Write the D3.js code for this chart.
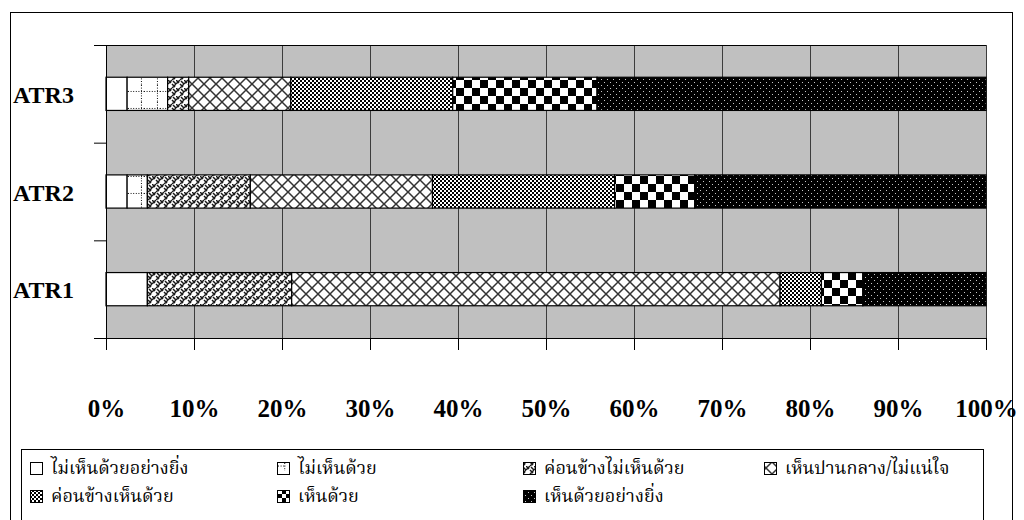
<!DOCTYPE html>
<html>
<head>
<meta charset="utf-8">
<script src="https://cdn.jsdelivr.net/npm/d3@7"></script>
<style>
  html, body { margin: 0; padding: 0; background: #fff; }
  svg { display: block; }
  .lat { font-family: "Liberation Serif", "Times New Roman", serif; font-weight: bold; }
  .thai { font-family: "Noto Serif Thai", "Noto Sans Thai", "Norasi", "Loma", "Garuda", "DejaVu Sans", sans-serif; }
</style>
</head>
<body>
<svg id="chart" width="1024" height="520"></svg>
<script>
// Attitude items, listed top to bottom as drawn
const categories = ["ATR3", "ATR2", "ATR1"];

// Agreement levels (legend order = stacking order, left to right)
const levels = [
  "ไม่เห็นด้วยอย่างยิ่ง",
  "ไม่เห็นด้วย",
  "ค่อนข้างไม่เห็นด้วย",
  "เห็นปานกลาง/ไม่แน่ใจ",
  "ค่อนข้างเห็นด้วย",
  "เห็นด้วย",
  "เห็นด้วยอย่างยิ่ง"
];

// Percentage of responses at each level
const atr3 = [2.4, 4.6, 2.4, 11.6, 18.4, 16.4, 44.2];
const atr2 = [2.4, 2.3, 11.7, 20.7, 20.7, 9.1, 33.1];
const atr1 = [4.7, 0.0, 16.4, 55.5, 4.7, 4.7, 14.0];

const tickValues = [0, 10, 20, 30, 40, 50, 60, 70, 80, 90, 100];
const tickLabels = ["0%", "10%", "20%", "30%", "40%", "50%", "60%", "70%", "80%", "90%", "100%"];

const seriesByCat = { ATR3: atr3, ATR2: atr2, ATR1: atr1 };

const svg = d3.select("#chart");
const defs = svg.append("defs");

// ---- fill patterns, one per agreement level ----
function makePattern(id, w, h, build, ox = 0, oy = 0) {
  const p = defs.append("pattern").attr("id", id)
    .attr("patternUnits", "userSpaceOnUse")
    .attr("width", w).attr("height", h)
    .attr("patternTransform", `translate(${ox},${oy})`);
  build(p);
  return p;
}
const builders = {
  // dotted grid
  p1: (w, h) => p => {
    p.append("rect").attr("width", w).attr("height", h).attr("fill", "#fff");
    p.append("line").attr("x1", 0).attr("x2", w).attr("y1", h * 0.38).attr("y2", h * 0.38)
      .attr("stroke", "#111").attr("stroke-width", 1).attr("stroke-dasharray", "1,1.6");
    p.append("line").attr("x1", w * 0.84).attr("x2", w * 0.84).attr("y1", 0).attr("y2", h)
      .attr("stroke", "#111").attr("stroke-width", 1).attr("stroke-dasharray", "1,1.6");
  },
  // weave / herringbone
  p2: () => p => {
    p.append("rect").attr("width", 8).attr("height", 8).attr("fill", "#fff");
    p.append("path")
      .attr("d", "M0,4 L4,0 M4,8 L8,4 M0,0 L3,3 M4,4 L7,7 M5,1 L8,4")
      .attr("stroke", "#1a1a1a").attr("stroke-width", 1.5).attr("fill", "none");
  },
  // large diamond crosshatch
  p3: (w) => p => {
    p.append("rect").attr("width", w).attr("height", w).attr("fill", "#fff");
    p.append("path").attr("d", `M0,0 L${w},${w} M${w},0 L0,${w}`)
      .attr("stroke", "#333").attr("stroke-width", 1.5).attr("fill", "none");
  },
  // small checkerboard
  p4: () => p => {
    p.append("rect").attr("width", 4).attr("height", 4).attr("fill", "#fff");
    p.append("rect").attr("width", 2).attr("height", 2).attr("fill", "#000");
    p.append("rect").attr("x", 2).attr("y", 2).attr("width", 2).attr("height", 2).attr("fill", "#000");
  },
  // large checkerboard
  p5: (w) => p => {
    p.append("rect").attr("width", w).attr("height", w).attr("fill", "#fff");
    p.append("rect").attr("width", w / 2).attr("height", w / 2).attr("fill", "#000");
    p.append("rect").attr("x", w / 2).attr("y", w / 2).attr("width", w / 2).attr("height", w / 2).attr("fill", "#000");
  },
  // black with sparse light dots
  p6: () => p => {
    p.append("rect").attr("width", 6).attr("height", 6).attr("fill", "#000");
    p.append("rect").attr("x", 1).attr("y", 1).attr("width", 1).attr("height", 1).attr("fill", "#c8c8c8");
    p.append("rect").attr("x", 4).attr("y", 4).attr("width", 1).attr("height", 1).attr("fill", "#c8c8c8");
  }
};
makePattern("p1", 16, 17, builders.p1(16, 17));
makePattern("p2", 8, 8, builders.p2());
makePattern("p3", 12, 12, builders.p3(12));
makePattern("p4", 4, 4, builders.p4());
makePattern("p5", 16, 16, builders.p5(16));
makePattern("p6", 6, 6, builders.p6());
const fills = ["#fff", "url(#p1)", "url(#p2)", "url(#p3)", "url(#p4)", "url(#p5)", "url(#p6)"];

// ---- outer chart frame ----
svg.append("rect").attr("x", 10.5).attr("y", 12.5).attr("width", 1002).attr("height", 520)
  .attr("fill", "#fff").attr("stroke", "#000").attr("stroke-width", 1);

// ---- scales ----
const plotL = 106, plotR = 986, plotT = 45, plotB = 338;
const x = d3.scaleLinear().domain([0, 100]).range([plotL, plotR]);
const y = d3.scaleBand().domain(categories).range([plotT, plotB])
  .paddingInner(0.66).paddingOuter(0.33);
const yEdge = d3.scaleLinear().domain([0, categories.length]).range([plotT, plotB]);

// plot background
svg.append("rect").attr("x", plotL).attr("y", plotT)
  .attr("width", plotR - plotL).attr("height", plotB - plotT).attr("fill", "#c0c0c0");

// vertical gridlines
svg.append("g").selectAll("line").data(tickValues.slice(1)).join("line")
  .attr("x1", d => x(d) + 0.5).attr("x2", d => x(d) + 0.5)
  .attr("y1", plotT).attr("y2", plotB)
  .attr("stroke", "#3c3c3c").attr("stroke-width", 1);

// top edge of plot area
svg.append("line").attr("x1", plotL).attr("x2", plotR)
  .attr("y1", plotT + 0.5).attr("y2", plotT + 0.5).attr("stroke", "#000");

// ---- stacked bars ----
const stacked = categories.map(c => {
  let acc = 0;
  return seriesByCat[c].map((v, i) => {
    const s = { cat: c, i, x0: acc, x1: acc + v };
    acc += v;
    return s;
  }).filter(s => s.x1 - s.x0 > 0);
});

svg.append("g").selectAll("g").data(stacked).join("g")
  .selectAll("rect").data(d => d).join("rect")
  .attr("x", d => x(d.x0))
  .attr("y", d => y(d.cat))
  .attr("width", d => x(d.x1) - x(d.x0))
  .attr("height", y.bandwidth())
  .attr("fill", d => fills[d.i])
  .attr("stroke", "#000").attr("stroke-width", 1.2);

// ---- axes ----
const xAxis = d3.axisBottom(x).tickValues(tickValues)
  .tickFormat((d, i) => tickLabels[i]).tickSize(12).tickSizeOuter(0);
const gx = svg.append("g").attr("transform", `translate(0,${plotB})`).call(xAxis);
gx.select(".domain").attr("stroke", "#000");
gx.selectAll(".tick line").attr("stroke", "#000");
gx.selectAll(".tick text")
  .attr("class", "lat").attr("y", 79).attr("dy", 0)
  .attr("font-size", 25).attr("fill", "#000");

const yAxis = d3.axisLeft(yEdge).tickValues([0, 1, 2, 3]).tickFormat("").tickSize(12).tickSizeOuter(0);
const gy = svg.append("g").attr("transform", `translate(${plotL},0)`).call(yAxis);
gy.select(".domain").attr("stroke", "#000");
gy.selectAll(".tick line").attr("stroke", "#000");

// category labels
svg.append("g").selectAll("text").data(categories).join("text")
  .attr("class", "lat")
  .attr("x", 13)
  .attr("y", d => y(d) + y.bandwidth() / 2 + 9)
  .attr("font-size", 24).attr("fill", "#000")
  .text(d => d);

// ---- legend ----
const lg = svg.append("g");
lg.append("rect").attr("x", 21.5).attr("y", 449.5).attr("width", 962).attr("height", 90)
  .attr("fill", "#fff").attr("stroke", "#000");
const colX = [30, 277, 523, 764];
const rowY = [468, 496];
const sw = 12;

// swatch-sized copies of the fills, anchored to each swatch
const legendFill = (d, i) => {
  const cx = colX[i % 4], cy = rowY[Math.floor(i / 4)] - 6;
  const id = "lp" + i;
  if (i === 0) return "#fff";
  if (i === 1) makePattern(id, 12, 12, builders.p1(8, 8), cx, cy + 1);
  if (i === 2) makePattern(id, 8, 8, builders.p2(), cx, cy);
  if (i === 3) makePattern(id, 12, 12, builders.p3(12), cx, cy);
  if (i === 4) makePattern(id, 4, 4, builders.p4(), cx, cy);
  if (i === 5) makePattern(id, 8, 8, builders.p5(8), cx, cy);
  if (i === 6) makePattern(id, 6, 6, builders.p6(), cx, cy);
  return `url(#${id})`;
};

const items = lg.selectAll("g").data(levels).join("g")
  .attr("transform", (d, i) => `translate(${colX[i % 4]},${rowY[Math.floor(i / 4)]})`);
items.append("rect").attr("x", 0.5).attr("y", -5.5).attr("width", sw).attr("height", sw)
  .attr("fill", legendFill).attr("stroke", "#000");
items.append("text").attr("class", "thai")
  .attr("x", 21).attr("y", 6).attr("font-size", 18).attr("fill", "#000")
  .text(d => d);
</script>
</body>
</html>
